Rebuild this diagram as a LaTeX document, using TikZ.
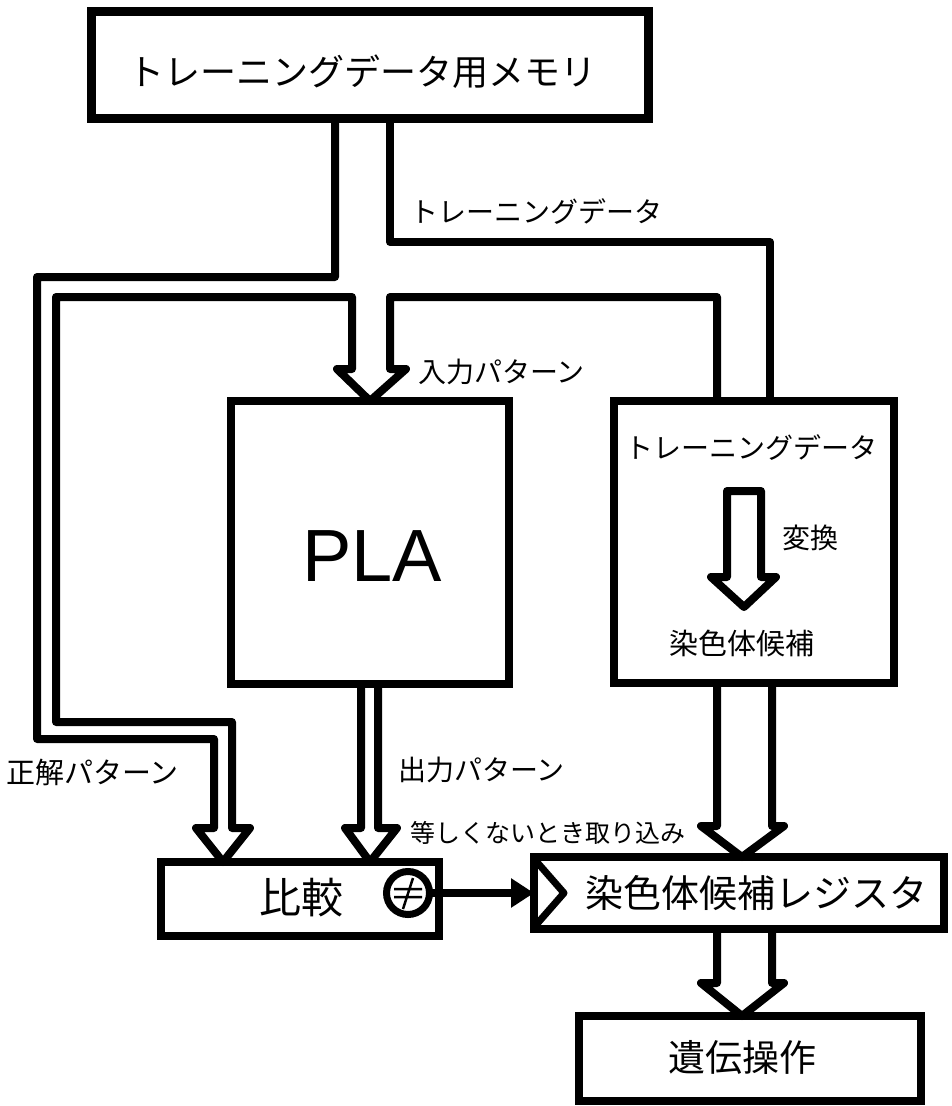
\documentclass[tikz,border=0pt]{standalone}
\usepackage{fontspec}
\setmainfont{Liberation Sans}
\newfontfamily\jp{Noto Sans CJK JP}
\usetikzlibrary{arrows.meta}
\begin{document}
\begin{tikzpicture}[x=1pt,y=-1pt,
  box/.style={draw, line width=8pt, inner sep=0pt, outer sep=0pt},
  pipe/.style={line width=8pt, line join=round, line cap=butt},
  lbl/.style={font=\jp\fontsize{#1pt}{#1pt}\selectfont, inner sep=0pt},
  lbl/.default=28]
\useasboundingbox (0,0) rectangle (952,1106);

% boxes
\node[box, line width=9pt, minimum width=557pt, minimum height=107pt] (mem) at (370,64.5) {};
\node[lbl=36] (memt) at (362,72) {トレーニングデータ用メモリ};

\node[box, minimum width=278pt, minimum height=283pt] (pla) at (370,542.5) {};
\node[font=\fontsize{74pt}{80pt}\selectfont, inner sep=0pt] (plat) at (372,556) {PLA};

\node[box, minimum width=280pt, minimum height=282pt] (conv) at (754,542) {};
\node[lbl] (convt1) at (751,448) {トレーニングデータ};
\node[lbl] (convt2) at (810,538) {変換};
\node[lbl=29] (convt3) at (742,643) {染色体候補};
\draw[pipe] (727,577) -- (727,491) -- (761,491) -- (761,577) -- (776,577) -- (744,607) -- (711,577) -- cycle;

\node[box, minimum width=278pt, minimum height=74pt] (cmp) at (300,899) {};
\node[lbl=42] (cmpt) at (301,898) {比較};
\node[circle, draw, line width=7pt, minimum size=43pt, inner sep=0pt, outer sep=0pt] (ne) at (408,893) {};
\draw[line width=2.5pt] (394,889) -- (422,889) (394,897) -- (422,897) (403,909) -- (413,878);

\node[box, minimum width=410pt, minimum height=72pt] (reg) at (739,893) {};
\node[lbl=38] (regt) at (756,893) {染色体候補レジスタ};
\draw[line width=7pt, line join=round] (536,861) -- (564,893) -- (536,925);

\node[box, minimum width=342pt, minimum height=85pt] (ga) at (750,1058.5) {};
\node[lbl=37] (gat) at (742,1057) {遺伝操作};

% labels
\node[lbl, anchor=west] (l1) at (410,212) {トレーニングデータ};
\node[lbl, anchor=west] (l2) at (418,372) {入力パターン};
\node[lbl, anchor=west] (l3) at (398,770) {出力パターン};
\node[lbl=29, anchor=west] (l4) at (6,772) {正解パターン};
\node[lbl=25, anchor=west] (l5) at (410,833) {等しくないとき取り込み};

% hollow pipes
\draw[pipe] (335,0 |- mem.south) -- (335,277) -- (37,277) -- (37,739) -- (214,739)
  -- (214,828) -- (196,828) -- (223,0 |- cmp.north) -- (250,828) -- (232,828)
  -- (232,722) -- (56,722) -- (56,297) -- (352,297)
  -- (352,369) -- (337,369) -- (370,0 |- pla.north) -- (406,369) -- (390,369)
  -- (390,297) -- (717,297) -- (717,0 |- conv.north);
\draw[pipe] (390,0 |- mem.south) -- (390,242) -- (770,242) -- (770,0 |- conv.north);
\draw[pipe] (361,0 |- pla.south) -- (361,828) -- (345,828) -- (370,0 |- cmp.north)
  -- (397,828) -- (378,828) -- (378,0 |- pla.south);
\draw[pipe] (717,0 |- conv.south) -- (717,826) -- (701,826) -- (742,0 |- reg.north)
  -- (784,826) -- (772,826) -- (772,0 |- conv.south);
\draw[pipe] (717,0 |- reg.south) -- (717,983) -- (701,983) -- (742,0 |- ga.north)
  -- (784,983) -- (772,983) -- (772,0 |- reg.south);

% not-equal output to register clock
\draw[line width=8pt, -{Triangle[length=23pt,width=28pt]}] (ne.east) -- (reg.west);
\end{tikzpicture}
\end{document}
